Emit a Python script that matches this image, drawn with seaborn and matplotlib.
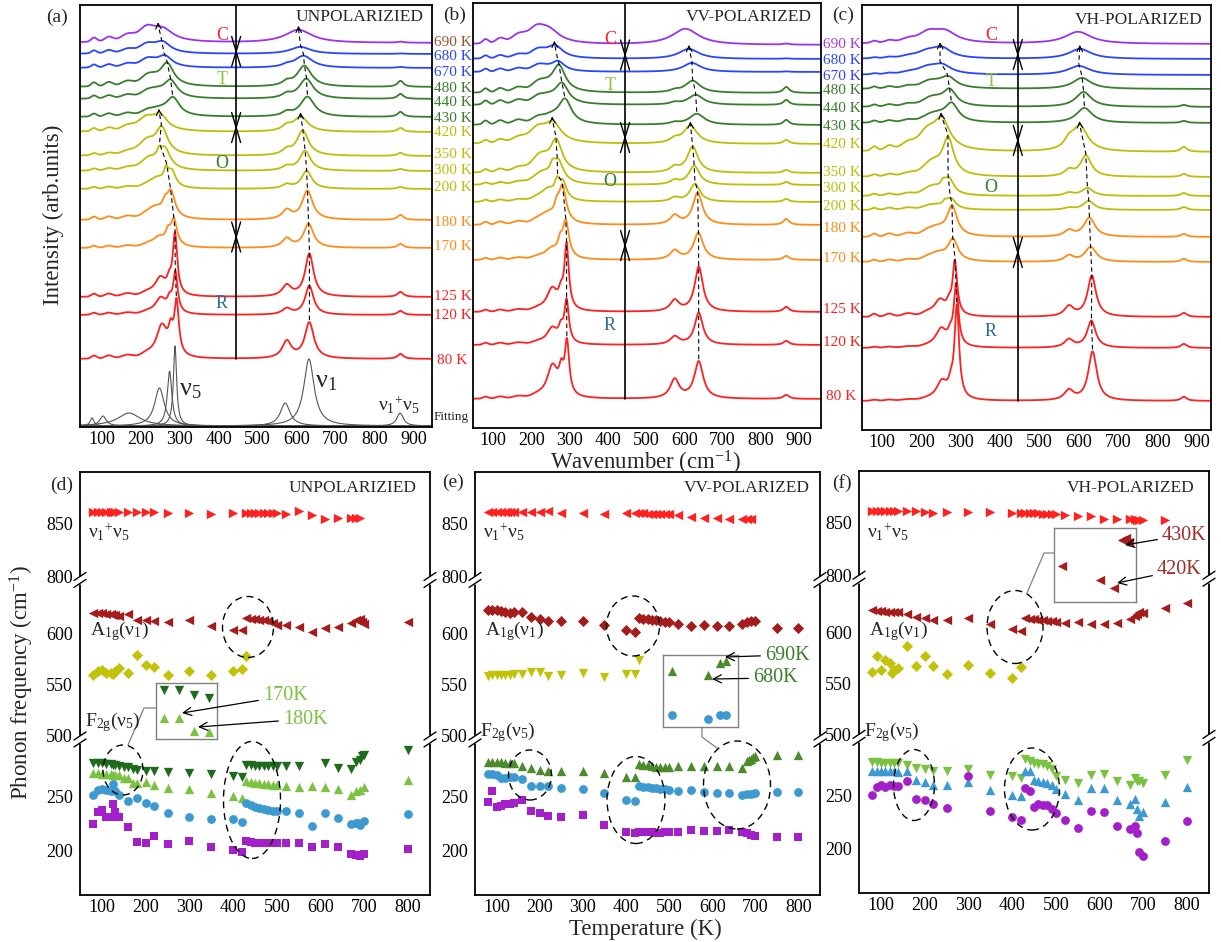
import numpy as np
import matplotlib
matplotlib.use("Agg")
import matplotlib.pyplot as plt
from matplotlib.patches import Ellipse
from matplotlib.lines import Line2D
from matplotlib.text import Annotation
import seaborn as sns

sns.set_theme(style="white")
plt.rcParams["font.family"] = ["Liberation Serif", "DejaVu Serif"]
plt.rcParams["mathtext.fontset"] = "custom"
plt.rcParams["mathtext.rm"] = "Liberation Serif"
plt.rcParams["mathtext.it"] = "Liberation Serif:italic"
plt.rcParams["mathtext.bf"] = "Liberation Serif:bold"
plt.rcParams["mathtext.default"] = "regular"

# ---------------------------------------------------------------- spectra data
SPEC_T = [690, 680, 670, 480, 440, 430, 420, 350, 300, 200, 180, 170, 125, 120, 80]

# (a) unpolarized: band centres (cm-1), heights and half widths
a_nu5_pos = [258, 256, 262, 268, 277, 283, 250, 254, 262, 280, 277, 285, 288, 289, 292]
a_nu5_amp = [9, 10, 10, 21, 16, 17, 14, 25, 19, 15, 26, 26, 60, 40, 52]
a_nu5_wid = [30, 24, 22, 20, 20, 20, 22, 18, 17, 12, 13, 10, 7, 7, 7]
a_mid_amp = [0, 0, 0, 0, 0, 0, 0, 0, 8, 13, 8, 10, 10, 10, 20]
a_sh_amp = [11, 6, 6, 8, 8, 7, 10, 12, 10, 10, 11, 10, 18, 16, 32]
a_nu1_pos = [605, 610, 618, 620, 625, 628, 611, 616, 622, 626, 628, 631, 633, 633, 633]
a_nu1_amp = [13, 7, 12, 21, 20, 20, 15, 25, 20, 18, 29, 24, 43, 29, 36]
a_nu1_wid = [42, 32, 28, 22, 22, 22, 22, 18, 17, 16, 16, 15, 13, 13, 14]
a_s575_amp = [0, 0, 2, 4, 4, 4, 5, 5, 4, 4, 9, 9, 11, 6, 17]
a_comb_amp = [1, 0.5, 1, 6, 5, 5, 4, 3, 2, 2, 5, 4, 5, 4, 5]
a_lf_amp = [4, 3, 3, 4, 3, 3, 3, 2, 2, 2, 3, 2, 3, 2, 3]

# (b) VV polarized
b_nu5_pos = [245, 262, 270, 272, 280, 288, 257, 265, 270, 282, 281, 290, 292, 292, 293]
b_nu5_amp = [11, 11, 9, 25, 19, 23, 17, 29, 21, 17, 36, 36, 64, 42, 52]
b_nu5_wid = [32, 24, 20, 20, 20, 20, 24, 18, 17, 12, 12, 10, 7, 7, 7]
b_mid_amp = [0, 0, 0, 0, 0, 0, 0, 0, 8, 13, 10, 12, 12, 12, 20]
b_sh_amp = [11, 6, 5, 8, 8, 8, 12, 14, 10, 12, 10, 10, 22, 16, 32]
b_nu1_pos = [603, 612, 620, 622, 630, 633, 616, 622, 626, 628, 635, 637, 638, 638, 638]
b_nu1_amp = [16, 10, 9, 12, 10, 11, 18, 26, 19, 18, 32, 27, 45, 32, 37]
b_nu1_wid = [42, 32, 28, 24, 24, 24, 22, 17, 17, 16, 15, 15, 13, 13, 14]
b_s575_amp = [0, 0, 0, 2, 2, 2, 4, 5, 4, 4, 9, 9, 11, 8, 19]
b_comb_amp = [1, 0.5, 0.5, 6, 5, 5, 4, 3, 3, 3, 6, 4, 5, 4, 4]
b_lf_amp = [4, 3, 3, 4, 4, 4, 3, 3, 2, 2, 3, 2, 2, 2, 2]

# (c) VH polarized
c_nu5_pos = [262, 252, 252, 268, 272, 277, 252, 268, 270, 275, 278, 280, 285, 288, 290]
c_nu5_amp = [8, 9, 8, 10, 15, 17, 28, 36, 15, 10, 29, 21, 53, 60, 92]
c_nu5_wid = [32, 28, 28, 24, 20, 20, 24, 17, 15, 15, 15, 15, 7, 7, 7]
c_mid_amp = [0, 0, 0, 0, 0, 0, 0, 0, 6, 4, 0, 0, 8, 8, 10]
c_sh_amp = [10, 6, 6, 6, 8, 8, 14, 12, 8, 4, 8, 8, 16, 18, 18]
c_nu1_pos = [598, 603, 600, 608, 612, 614, 603, 618, 622, 625, 627, 630, 633, 632, 635]
c_nu1_amp = [12, 10, 9, 11, 15, 15, 25, 21, 8, 9, 19, 15, 41, 27, 49]
c_nu1_wid = [40, 34, 34, 28, 24, 24, 24, 17, 17, 17, 17, 17, 13, 13, 13]
c_s575_amp = [0, 0, 0, 0, 0, 0, 8, 6, 3, 2, 6, 6, 10, 8, 10]
c_comb_amp = [0, 0, 0, 0, 2, 2, 5, 3, 3, 3, 3, 3, 4, 4, 4]
c_lf_amp = [2, 1, 1, 2, 2, 2, 4, 2, 2, 2, 3, 2, 3, 1, 1]

# Lorentzian fit components of the 80 K spectrum
fit_pos = [75, 103, 170, 248, 274, 288, 571, 632, 866]
fit_amp = [8, 10, 13, 38, 55, 80, 23, 67, 13]
fit_wid = [6, 10, 35, 15, 7, 5, 15, 16, 10]

# ---------------------------------------------------------------- phonon data
# (d) unpolarized
d_comb_T = [80, 90, 100, 110, 120, 125, 130, 140, 160, 180, 200, 220, 250, 300, 350, 400,
            430, 440, 450, 460, 470, 480, 490, 500, 520, 550, 580, 610, 640, 670, 680, 690]
d_comb = [861, 861, 861, 861, 861, 861, 861, 861, 861, 861, 861, 861, 860, 860, 859.5, 860,
          860, 860, 860, 860, 860, 860, 860, 860, 859, 862, 858, 855, 856, 856, 856, 856]
d_a1_T = [80, 90, 100, 110, 120, 125, 130, 140, 160, 180, 200, 220, 250, 300, 350, 400, 420,
          430, 440, 450, 460, 470, 480, 490, 500, 520, 550, 580, 610, 640, 670, 680, 690, 695, 700, 800]
d_a1 = [621, 621, 620.5, 620, 619.5, 619, 619, 618, 619.5, 613.5, 613.5, 612.5, 612, 613.5, 608, 604, 603.5,
        615.5, 615, 614.5, 614, 613.5, 612.5, 611, 608.5, 608.5, 607, 601.5, 606, 606.5, 611, 614, 615, 612, 610, 612]
d_e_T = [80, 90, 100, 110, 120, 125, 130, 140, 160, 180, 200, 220, 250, 300, 350, 400, 420, 430]
d_e = [560, 563.5, 565, 561.5, 561.5, 561, 563.5, 566.5, 561.5, 579, 570, 567.5, 560, 563.5, 559.5, 563.5, 566, 578.5]
d_f1_T = [80, 90, 100, 110, 120, 125, 130, 140, 150, 160, 170, 180, 200, 220, 250, 300, 350, 400, 420,
          430, 440, 450, 460, 470, 480, 490, 500, 520, 550, 610, 640, 670, 680, 690, 695, 700, 800]
d_f1 = [281.5, 281.5, 281, 280.5, 280.5, 280, 280, 279, 277.5, 277.5, 275.7, 274.9, 274.3, 273.7, 272.9, 272,
        270.8, 269.1, 268.5, 280, 279.5, 279, 279, 278.5, 278.5, 279, 278.5, 278.7, 278.7, 281.6, 277, 275.8,
        282.5, 284.5, 287.5, 289, 293.3]
d_f2_T = [80, 90, 100, 110, 120, 125, 130, 140, 150, 160, 170, 180, 200, 220, 250, 300, 350, 400, 420,
          430, 440, 450, 460, 470, 480, 490, 500, 520, 550, 580, 610, 640, 670, 680, 690, 700, 800]
d_f2 = [272, 272, 271.5, 271.5, 271, 270.5, 270.5, 270, 267.5, 267.5, 263.1, 262.5, 263.8, 260.9, 258, 257.1,
        253.6, 251.2, 249.2, 265, 264, 263, 262.5, 262, 261.5, 261, 261, 260, 259.4, 260, 259.4, 257, 252,
        255, 256.5, 259.4, 265.8]
d_f3_T = [80, 90, 100, 110, 120, 125, 130, 140, 160, 180, 200, 220, 250, 300, 350, 400, 420,
          430, 440, 450, 460, 470, 480, 490, 500, 520, 550, 580, 610, 640, 670, 680, 685, 690, 700, 800]
d_f3 = [252, 256.5, 257, 256, 255, 262.3, 255, 252, 246.3, 249.2, 244.2, 241.9, 234.6, 231.7, 229.7, 229.7,
        226.8, 244.2, 242.5, 240.5, 239.5, 238.5, 238, 237, 236.5, 236.6, 235.4, 222.8, 235.4, 230.8, 224.9,
        226, 225.5, 224.3, 227.8, 233.7]
d_f4 = [224.9, 236, 237.4, 231.6, 231.6, 243.3, 236, 231.6, 221.9, 208.2, 207.3, 214, 206.7, 209, 203.8,
        200.9, 198.5, 209.5, 208.5, 207.5, 207, 207, 207, 207.5, 207.5, 207.3, 207, 203.2, 206.1, 203.2, 197,
        196.5, 196, 195.5, 197, 201.5]

# (e) VV polarized
e_comb_T = [80, 90, 100, 110, 120, 125, 130, 140, 160, 180, 200, 220, 250, 300, 350, 400, 420,
            430, 440, 450, 460, 470, 480, 490, 500, 520, 550, 580, 610, 640, 670, 680, 690]
e_comb = [861.5, 861.5, 861.5, 861.5, 861.5, 861.5, 861.5, 861.5, 861.5, 861.5, 861.5, 862, 860.6, 860.6,
          859.7, 860, 860, 860, 860, 859.7, 859.7, 859.5, 859.5, 859.4, 859, 858.5, 856.7, 855.8, 855.8,
          854.5, 854.5, 854.5, 854.5]
e_a1_T = [80, 90, 100, 110, 120, 130, 140, 160, 180, 200, 220, 250, 300, 350, 400, 420,
          430, 440, 450, 460, 470, 480, 490, 500, 520, 550, 580, 610, 640, 670, 680, 690, 700, 750, 800]
e_a1 = [623, 623.5, 623, 622.3, 621.3, 620.7, 621.3, 622, 616.4, 614.8, 612.5, 613, 613, 608.9, 604.3, 601.6,
        615.7, 615, 614.5, 614, 613.5, 613, 612, 611.5, 609.8, 608.2, 608.9, 608.2, 608.2, 609.8, 612.1,
        613.1, 612.5, 605.6, 605.6]
e_e_T = [80, 90, 100, 110, 120, 130, 140, 160, 180, 200, 220, 250, 300, 350, 400, 420, 430]
e_e = [559, 560, 559.5, 560, 559.5, 560, 560.5, 560.7, 562.3, 563, 559, 559.7, 561.6, 557.4, 560.7, 560.7, 574.8]
e_f1_T = [80, 90, 100, 110, 120, 130, 140, 160, 180, 200, 220, 250, 300, 350, 400, 420,
          430, 440, 450, 460, 470, 480, 490, 500, 520, 550, 580, 610, 640, 670, 680, 685, 690, 695, 700, 750, 800]
e_f1 = [282.5, 282.5, 282, 282, 281.5, 281.5, 281, 279, 276.8, 275.2, 274.2, 274.2, 274.2, 272.6, 268.7, 268.7,
        280.6, 280, 279.5, 278.5, 278, 277.5, 277.8, 277.4, 278.4, 278.4, 278.4, 279, 278.4, 276.5, 283,
        284.5, 285.5, 287, 288, 288.7, 288.7]
e_f2_T = [80, 90, 100, 110, 120, 130, 140, 160, 180, 200, 220, 250, 300, 350, 400, 420,
          430, 440, 450, 460, 470, 480, 490, 500, 520, 550, 580, 610, 640, 670, 680, 690, 700, 750, 800]
e_f2 = [271, 271, 270, 267.7, 267.7, 268.7, 268.7, 266.8, 259.7, 259.7, 259.7, 258, 257, 253.2, 246.8, 246,
        259.7, 259.5, 259.5, 258.5, 258, 257.5, 257, 256.5, 255.8, 256.5, 254.8, 253.9, 253.2, 251.6, 252.5,
        253, 253.5, 254.8, 254.8]
e_f3 = [245.2, 255.8, 241, 241.9, 243.5, 243.5, 244.2, 246.8, 236.5, 235.5, 232.3, 231.3, 233.2, 224.2, 217.1,
        216.1, 217, 217.5, 217.7, 217.5, 216.5, 216.8, 217.5, 217.5, 217.1, 219.4, 218.4, 218.4, 219.4, 217.1,
        216.1, 214.5, 213.5, 212.9, 212.9]

# (f) VH polarized
f_comb_T = [80, 90, 100, 110, 120, 130, 140, 160, 180, 200, 220, 250, 300, 350, 400, 420,
            430, 440, 450, 460, 470, 480, 490, 500, 520, 550, 580, 610, 640, 670, 680, 685, 690, 700, 750]
f_comb = [861, 861, 861, 861, 861, 861, 861, 861.6, 861.6, 860.3, 859.4, 860.3, 860, 860, 859.4, 859.2,
          859.2, 859, 859, 859, 858.8, 858.6, 858.6, 858.3, 857.8, 856.3, 856.3, 854, 854, 853.5, 853.3,
          853, 853, 853, 853]
f_all_T = [80, 90, 100, 110, 120, 130, 140, 160, 180, 200, 220, 250, 300, 350, 400, 420,
           430, 440, 450, 460, 470, 480, 490, 500, 520, 550, 580, 610, 640, 670, 680, 685, 690, 700, 750, 800]
f_a1 = [622, 621.4, 621, 620.5, 620, 620, 619.8, 618.2, 615.7, 614.4, 612.5, 612.5, 614.7, 608, 603.8, 601.6,
        614, 613.5, 613, 612.5, 612, 611.5, 611, 610.2, 609.6, 610.2, 608.6, 608, 609.6, 613.4, 616, 618.2,
        620.4, 619.2, 624, 628.8]
f_e_T = [80, 90, 100, 110, 120, 125, 130, 140, 160, 180, 200, 220, 250, 300, 350, 400, 420]
f_e = [561.7, 576.7, 563.3, 573.5, 570.3, 560.7, 562.9, 564.9, 587.2, 567.1, 576.7, 567.1, 559.1, 568, 560.7,
       555.3, 566.1]
f_f1 = [280.5, 280.5, 280.3, 280, 280, 279.8, 279.5, 277.7, 275.5, 273.9, 272.3, 272.3, 273.9, 269.1, 267.5,
        265.9, 284, 281.8, 280.3, 279, 278.5, 277.5, 273.9, 267.5, 264.3, 261.1, 269.1, 270, 262.7, 259.6,
        265.9, 263.5, 262.7, 261.1, 269.1, 282.8]
f_f2 = [272.3, 272.3, 272.3, 272, 272, 272, 271.5, 272.3, 264.3, 261.8, 259.6, 259.6, 261.8, 254.8, 250, 249,
        272.3, 272.3, 264.3, 263, 262, 261, 259.6, 255.4, 251, 245.9, 256.4, 256.4, 245.2, 242, 246.8, 237,
        230.9, 234.1, 243.6, 258]
f_f3 = [250, 258, 259.6, 258, 259.6, 258.6, 258.6, 262.7, 246.8, 245.9, 242, 238.2, 267.5, 235, 229.9, 226.8,
        256.4, 254.1, 238.9, 242, 240.4, 240.4, 237.3, 233.1, 226.8, 219.7, 235, 234.1, 221.3, 218.2, 221.3,
        215, 196.8, 193.6, 207.6, 225.5]

# zoomed details
zd_T = [150, 160, 170, 180]
zd_f1 = [277.5, 277.5, 275.7, 274.9]
zd_f2 = [267.5, 267.5, 263.1, 262.5]
ze_T = [650, 680, 690, 695]
ze_f1 = [272, 270.1, 275.6, 276.4]
ze_f2 = [252, 250.5, 252, 252]
zf_T = [350, 400, 420, 430, 435, 440]
zf_a1 = [607.6, 604, 602, 614, 614.5, 613.6]

# ---------------------------------------------------------------- styling
RED, ORANGE, YEL, GREEN, BLUE, PURPLE = "#ff2020", "#ff8c1a", "#bdbd0a", "#3b7d2f", "#2a45ff", "#9a32f0"
CURVE_COLORS = [PURPLE, BLUE, BLUE, GREEN, GREEN, GREEN, YEL, YEL, YEL, YEL, ORANGE, ORANGE, RED, RED, RED]
LABEL_A_COLORS = ["#a0522d"] + CURVE_COLORS[1:]
LABEL_C_COLORS = ["#b23cd6"] + CURVE_COLORS[1:]

W, H = 1221, 942
fig = plt.figure(figsize=(W / 100, H / 100), dpi=100)
fig.patch.set_facecolor("white")


def add_ax(l, t, r, b):
    return fig.add_axes([l / W, 1 - b / H, (r - l) / W, (b - t) / H])


def ftext(x, y, s, **kw):
    kw.setdefault("ha", "center")
    kw.setdefault("va", "center")
    return fig.text(x / W, 1 - y / H, s, **kw)


def fline(xs, ys, **kw):
    fig.add_artist(Line2D([x / W for x in xs], [1 - y / H for y in ys], transform=fig.transFigure, **kw))


def fellipse(cx, cy, w, h):
    fig.add_artist(Ellipse((cx / W, 1 - cy / H), w / W, h / H, transform=fig.transFigure,
                           fill=False, ec="black", lw=1.0, ls=(0, (5, 3.5)), zorder=10))


def style_frame(ax):
    for s in ax.spines.values():
        s.set_visible(True)
        s.set_color("black")
        s.set_linewidth(1.3)


WN = np.linspace(40, 960, 1600)
LF_POS = [80, 118, 165, 215]
LF_WID = [7, 10, 14, 14]


def lorentz(x, c, a, w):
    return a * w ** 2 / ((x - c) ** 2 + w ** 2)


def spectrum(p, i):
    y = np.zeros_like(WN)
    for c, w in zip(LF_POS, LF_WID):
        y += p["lf"][i] * np.exp(-0.5 * ((WN - c) / w) ** 2)
    pos5, w5 = p["nu5_pos"][i], p["nu5_wid"][i]
    y += lorentz(WN, pos5, p["nu5_amp"][i], w5)
    y += lorentz(WN, pos5 - 15, p["mid"][i], 7)
    y += lorentz(WN, pos5 - 38, p["sh"][i], 1.3 * w5 + 8)
    y += lorentz(WN, 575, p["s575"][i], 14)
    y += lorentz(WN, p["nu1_pos"][i], p["nu1_amp"][i], p["nu1_wid"][i])
    y += lorentz(WN, 867, p["comb"][i], 9)
    return y


def peak_top(y, centre, half=14):
    m = (WN > centre - half) & (WN < centre + half)
    j = np.argmax(y[m])
    return WN[m][j], y[m][j]


TOP_PANELS = [
    dict(box=(80, 5, 432, 427), xlim=(44, 948), base=[43, 54, 68, 87, 99, 117, 132, 156, 171, 189, 220, 248, 297, 315, 359],
         p=dict(nu5_pos=a_nu5_pos, nu5_amp=a_nu5_amp, nu5_wid=a_nu5_wid, mid=a_mid_amp, sh=a_sh_amp,
                nu1_pos=a_nu1_pos, nu1_amp=a_nu1_amp, nu1_wid=a_nu1_wid, s575=a_s575_amp, comb=a_comb_amp, lf=a_lf_amp),
         top_end=0, title="UNPOLARIZIED", title_x=424, letter=(57, 17, "(a)"),
         phase_x=222, phase_y=[35, 79, 164, 304]),
    dict(box=(473, 3, 821, 428), xlim=(47, 958), base=[45, 59, 72, 93, 105, 125, 144, 173, 185, 202, 225, 260, 312, 345, 399],
         p=dict(nu5_pos=b_nu5_pos, nu5_amp=b_nu5_amp, nu5_wid=b_nu5_wid, mid=b_mid_amp, sh=b_sh_amp,
                nu1_pos=b_nu1_pos, nu1_amp=b_nu1_amp, nu1_wid=b_nu1_wid, s575=b_s575_amp, comb=b_comb_amp, lf=b_lf_amp),
         top_end=1, title="VV-POLARIZED", title_x=812, letter=(455, 15, "(b)"),
         phase_x=610, phase_y=[40, 86, 182, 326]),
    dict(box=(862, 5, 1211, 430), xlim=(49, 936), base=[44, 59, 75, 89, 107, 123, 152, 177, 196, 210, 237, 262, 317, 348, 401],
         p=dict(nu5_pos=c_nu5_pos, nu5_amp=c_nu5_amp, nu5_wid=c_nu5_wid, mid=c_mid_amp, sh=c_sh_amp,
                nu1_pos=c_nu1_pos, nu1_amp=c_nu1_amp, nu1_wid=c_nu1_wid, s575=c_s575_amp, comb=c_comb_amp, lf=c_lf_amp),
         top_end=1, title="VH-POLARIZED", title_x=1203, letter=(843, 15, "(c)"),
         phase_x=991, phase_y=[35, 82, 188, 332]),
]
PHASES = [("C", "#ff2020"), ("T", "#8cc63f"), ("O", "#2e7d32"), ("R", "#2b6a96")]

for k, cfg in enumerate(TOP_PANELS):
    l, t, r, b = cfg["box"]
    ax = add_ax(l, t, r, b)
    height = b - t
    ax.set_xlim(*cfg["xlim"])
    ax.set_ylim(0, height)
    offsets = [b - yb for yb in cfg["base"]]
    tops5, tops1 = [], []
    for i, T in enumerate(SPEC_T):
        y = spectrum(cfg["p"], i) + offsets[i]
        sns.lineplot(x=WN, y=y, ax=ax, color=CURVE_COLORS[i], linewidth=1.3, estimator=None, sort=False)
        tops5.append(peak_top(y, cfg["p"]["nu5_pos"][i]))
        tops1.append(peak_top(y, cfg["p"]["nu1_pos"][i]))
    # dashed peak tracks with arrow heads
    for tops in (tops5, tops1):
        for idx in (list(range(14, 5, -1)), list(range(5, cfg["top_end"] - 1, -1))):
            xs = [tops[j][0] for j in idx]
            ys = [tops[j][1] + 2 for j in idx]
            ax.plot(xs, ys, color="black", lw=0.8, ls=(0, (4, 3)), zorder=4)
            ax.annotate("", xy=(xs[-1], ys[-1] + 2), xytext=(xs[-2] * 0.05 + xs[-1] * 0.95, ys[-2] * 0.05 + ys[-1] * 0.95),
                        arrowprops=dict(arrowstyle="->", lw=0.8, color="black", shrinkA=0, shrinkB=0, mutation_scale=10))
    # phase boundary line with hourglass markers
    xl = 445
    ax.plot([xl, xl], [offsets[-1], height], color="black", lw=1.2, zorder=4)
    scale = (r - l) / (cfg["xlim"][1] - cfg["xlim"][0])
    dx = 4.5 / scale
    for i0 in (0, 5, 10):
        yc = (offsets[i0] + offsets[i0 + 1]) / 2 - 3
        for s in (1, -1):
            ax.plot([xl - dx, xl, xl + dx], [yc + s * 15, yc, yc + s * 15], color="black", lw=1.0, zorder=4)
    if k == 0:
        for c, a, w in zip(fit_pos, fit_amp, fit_wid):
            sns.lineplot(x=WN, y=lorentz(WN, c, a, w) + 1, ax=ax, color="#555555", linewidth=0.8,
                         estimator=None, sort=False)
    ax.set_xticks(range(100, 1000, 100))
    ax.set_yticks([])
    ax.tick_params(axis="x", direction="in", length=4, width=1, labelsize=13, pad=3, colors="black")
    ax.set_xlabel("")
    ax.set_ylabel("")
    style_frame(ax)
    ftext(cfg["title_x"], 17 if k < 2 else 20, cfg["title"], ha="right", fontsize=12.5)
    ftext(*cfg["letter"][:2], cfg["letter"][2], fontsize=14)
    for (ph, col), py in zip(PHASES, cfg["phase_y"]):
        ftext(cfg["phase_x"], py, ph, color=col, fontsize=13)

# temperature labels
lab_a_y = [42, 57, 73, 88, 103, 119, 133, 155, 170, 187, 222, 247, 297, 316, 361]
lab_c_y = [44, 60, 76, 91, 108, 126, 145, 173, 188, 206, 229, 259, 310, 343, 396]
for i, T in enumerate(SPEC_T):
    ftext(437 if T == 80 else 434, lab_a_y[i], f"{T} K", ha="left", color=LABEL_A_COLORS[i], fontsize=11)
    ftext(826 if T == 80 else 823, lab_c_y[i], f"{T} K", ha="left", color=LABEL_C_COLORS[i], fontsize=11)
ftext(434, 417, "Fitting", ha="left", fontsize=9.5)
ftext(190, 390, r"$\nu_5$", fontsize=19)
ftext(326, 382, r"$\nu_1$", fontsize=19)
ftext(399, 405, r"$\nu_1{}^{+}\nu_5$", fontsize=14)
ftext(53, 215, "Intensity (arb.units)", rotation=90, fontsize=16.5)
ftext(645, 463, r"Wavenumber (cm$^{-1}$)", fontsize=16.5)

# ---------------------------------------------------------------- broken axis
BRK_V = [0, 159, 300, 500, 650, 800, 1000]
BRK_U = [-171.4, 0, 152, 159, 312, 318, 530]


def fwd(v):
    return np.interp(v, BRK_V, BRK_U)


def inv(u):
    return np.interp(u, BRK_U, BRK_V)


C_COMB, C_A1, C_E = "#ff2020", "#a51c1c", "#c2c20a"
C_DG, C_LG, C_BL, C_PU, C_EG = "#1e6b1e", "#7cc242", "#3d9ad1", "#a21fc9", "#4b8b2b"

BOTTOM_PANELS = [
    dict(box=(80, 472, 430, 895), letter=(62, 485, "(d)"), title="UNPOLARIZIED", title_x=417,
         series=[(d_comb_T, d_comb, ">", C_COMB, 45), (d_a1_T, d_a1, "<", C_A1, 45), (d_e_T, d_e, "D", C_E, 32),
                 (d_f1_T, d_f1, "v", C_DG, 45), (d_f2_T, d_f2, "^", C_LG, 45), (d_f3_T, d_f3, "o", C_BL, 40),
                 (d_f3_T, d_f4, "s", C_PU, 30)]),
    dict(box=(475, 472, 820, 895), letter=(453, 482, "(e)"), title="VV-POLARIZED", title_x=810,
         series=[(e_comb_T, e_comb, "<", C_COMB, 45), (e_a1_T, e_a1, "D", C_A1, 32), (e_e_T, e_e, "v", C_E, 45),
                 (e_f1_T, e_f1, "^", C_EG, 45), (e_f2_T, e_f2, "o", C_BL, 40), (e_f2_T, e_f3, "s", C_PU, 30)]),
    dict(box=(859, 471, 1209, 893), letter=(842, 483, "(f)"), title="VH-POLARIZED", title_x=1195,
         series=[(f_comb_T, f_comb, ">", C_COMB, 45), (f_all_T, f_a1, "<", C_A1, 45), (f_e_T, f_e, "D", C_E, 32),
                 (f_all_T, f_f1, "v", C_LG, 45), (f_all_T, f_f2, "^", C_BL, 45), (f_all_T, f_f3, "o", C_PU, 40)]),
]

for k, cfg in enumerate(BOTTOM_PANELS):
    l, t, r, b = cfg["box"]
    ax = add_ax(l, t, r, b)
    ax.set_yscale("function", functions=(fwd, inv))
    for T, v, mk, col, s in cfg["series"]:
        sns.scatterplot(x=T, y=v, marker=mk, s=s, color=col, linewidth=0, ax=ax, zorder=3)
    ax.set_xlim(50, 850)
    ax.set_ylim(159, 899)
    ax.set_xticks(range(100, 900, 100))
    ax.set_yticks([200, 250, 500, 550, 600, 800, 850])
    ax.tick_params(axis="both", direction="in", length=4, width=1, labelsize=13, pad=3, colors="black")
    ax.tick_params(axis="y", pad=5)
    ax.set_xlabel("")
    ax.set_ylabel("")
    style_frame(ax)
    # axis break marks on both sides
    aw, ah = r - l, b - t
    top_u = float(fwd(899.0))
    for v in (400.0, 725.0):
        yf = float(fwd(v)) / top_u
        for xf in (0.0, 1.0):
            ax.plot([xf, xf], [yf - 4 / ah, yf + 4 / ah], transform=ax.transAxes, color="white", lw=3.5,
                    clip_on=False, zorder=6, solid_capstyle="butt")
            for d in (-3.5, 3.5):
                ax.plot([xf - 6 / aw, xf + 6 / aw], [yf + (d - 4) / ah, yf + (d + 4) / ah],
                        transform=ax.transAxes, color="black", lw=1.0, clip_on=False, zorder=7)
    ftext(*cfg["letter"][:2], cfg["letter"][2], fontsize=14)
    ftext(cfg["title_x"], 488, cfg["title"], ha="right", fontsize=12.5)
    lx = l + 8
    ftext(lx, 532, r"$\nu_1{}^{+}\nu_5$", ha="left", fontsize=14)
    ftext(lx + 2, 631, r"$A_{1g}(\nu_1)$", ha="left", fontsize=14)
    ftext(lx - 3, 722 if k == 0 else 732, r"$F_{2g}(\nu_5)$", ha="left", fontsize=14)

# dashed ellipses around anomalies
for e in [(248, 627, 51, 61), (123, 770, 40, 50), (252, 800, 57, 117),
          (530, 775, 43, 50), (636, 800, 58, 87), (737, 785, 67, 88), (633, 626, 53, 60),
          (914, 785, 41, 71), (1032, 789, 55, 82), (1015, 627, 56, 73)]:
    fellipse(*e)


def zoom_axes(l, t, r, b):
    ax = add_ax(l, t, r, b)
    ax.set_xticks([])
    ax.set_yticks([])
    for s in ax.spines.values():
        s.set_visible(True)
        s.set_color("#808080")
        s.set_linewidth(1.0)
    return ax


zd = zoom_axes(156, 683, 217, 739)
sns.scatterplot(x=zd_T, y=zd_f1, marker="v", s=45, color=C_DG, linewidth=0, ax=zd)
sns.scatterplot(x=zd_T, y=zd_f2, marker="^", s=45, color=C_LG, linewidth=0, ax=zd)
zd.set_xlim(145, 185.2)
zd.set_ylim(260.1, 280.1)
zd.set_xlabel("")
zd.set_ylabel("")

ze = zoom_axes(663, 655, 738, 727)
sns.scatterplot(x=ze_T, y=ze_f1, marker="^", s=45, color=C_EG, linewidth=0, ax=ze)
sns.scatterplot(x=ze_T, y=ze_f2, marker="o", s=40, color=C_BL, linewidth=0, ax=ze)
ze.set_xlim(642.5, 704.7)
ze.set_ylim(246.7, 279.1)
ze.set_xlabel("")
ze.set_ylabel("")

zf = zoom_axes(1054, 528, 1136, 602)
sns.scatterplot(x=zf_T, y=zf_a1, marker="<", s=45, color=C_A1, linewidth=0, ax=zf)
zf.set_xlim(338.8, 449)
zf.set_ylim(598.6, 617.1)
zf.set_xlabel("")
zf.set_ylabel("")

# leader lines from the zoom boxes to the ellipses
fline([156, 144, 128], [708, 708, 745], color="#808080", lw=0.9)
fline([702, 702, 717], [727, 737, 748], color="#808080", lw=0.9)
fline([1054, 1044, 1027], [553, 553, 593], color="#808080", lw=0.9)


def callout(text, tx, ty, px, py, col):
    a = Annotation(text, xy=(px, H - py), xycoords="figure pixels", xytext=(tx, H - ty),
                   textcoords="figure pixels", ha="left", va="center", color=col, fontsize=14.5,
                   annotation_clip=False,
                   arrowprops=dict(arrowstyle="->", lw=0.9, color="black", shrinkA=1, shrinkB=0))
    a.set_zorder(12)
    fig.add_artist(a)


callout("170K", 263, 696, 182, 713, C_LG)
callout("180K", 283, 719, 198, 727, C_LG)
callout("690K", 765, 655, 725, 657, "#3a7f2a")
callout("680K", 753, 678, 712, 679, "#3a7f2a")
callout("430K", 1162, 535, 1125, 545, "#a52a2a")
callout("420K", 1157, 570, 1117, 583, "#a52a2a")

ftext(22, 683, r"Phonon frequency (cm$^{-1}$)", rotation=90, fontsize=16.5)
ftext(645, 929, "Temperature (K)", fontsize=16.5)

fig.savefig("out.png", dpi=100, facecolor="white")
